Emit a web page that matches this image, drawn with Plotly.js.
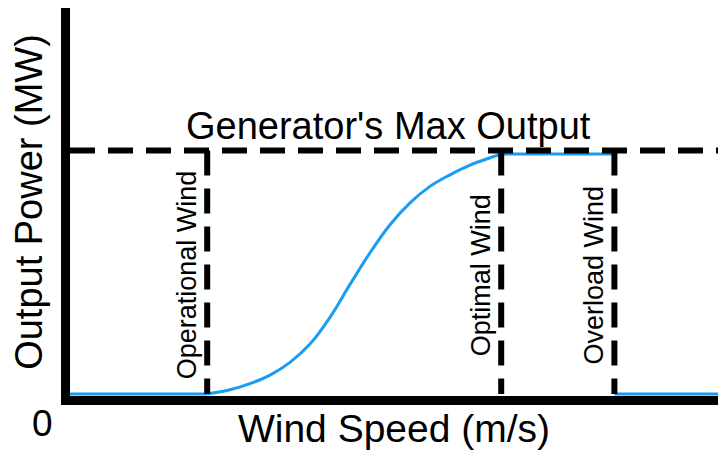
<!DOCTYPE html>
<html>
<head>
<meta charset="utf-8">
<script src="https://cdn.plot.ly/plotly-3.0.1.min.js"></script>
<style>html,body{margin:0;padding:0;background:#fff;}#chart{width:718px;height:455px;}</style>
</head>
<body>
<div id="chart"></div>
<script>
// ---- data (wind speed in m/s, output power in MW) ----
const cutInSpeed = 3.43;      // Operational Wind
const ratedSpeed = 10.78;     // Optimal Wind
const cutOutSpeed = 13.61;    // Overload Wind
const maxWindSpeed = 16.2;
const maxPower = 2.0;         // Generator's Max Output
const ratedPower = 1.97;

const curveSpeed = [3.43, 4.0, 4.5, 5.0, 5.5, 6.0, 6.5, 7.0, 7.5, 8.0, 8.5, 9.0, 9.5, 10.0, 10.5, 10.78];
const curvePower = [0.00, 0.035, 0.085, 0.155, 0.26, 0.41, 0.63, 0.90, 1.16, 1.39, 1.57, 1.705, 1.80, 1.88, 1.94, 1.97];

const lowSpeed = [0, cutInSpeed];
const lowPower = [0, 0];
const ratedSpeeds = [ratedSpeed, cutOutSpeed];
const ratedPowers = [ratedPower, ratedPower];
const overSpeed = [cutOutSpeed, maxWindSpeed];
const overPower = [0, 0];

const markerLabels = ["Operational Wind", "Optimal Wind", "Overload Wind"];
const markerSpeeds = [cutInSpeed, ratedSpeed, cutOutSpeed];

const blue = "#1a9cf2";
const font = "Liberation Sans, Arial, sans-serif";
const lineStyle = {color: blue, width: 3};

const traces = [
  {x: lowSpeed, y: lowPower, mode: "lines", line: lineStyle, hoverinfo: "skip"},
  {x: curveSpeed, y: curvePower, mode: "lines", line: {color: blue, width: 3, shape: "spline", smoothing: 1}, hoverinfo: "skip"},
  {x: ratedSpeeds, y: ratedPowers, mode: "lines", line: lineStyle, hoverinfo: "skip"},
  {x: overSpeed, y: overPower, mode: "lines", line: lineStyle, hoverinfo: "skip"}
];

const shapes = [
  {type: "line", xref: "x", yref: "y", x0: 0, x1: maxWindSpeed, y0: maxPower, y1: maxPower,
   line: {color: "#000", width: 6, dash: "25px,13px"}}
];
markerSpeeds.forEach(s => shapes.push({
  type: "line", xref: "x", yref: "y", x0: s, x1: s, y0: maxPower, y1: 0,
  line: {color: "#000", width: 6, dash: "25px,13px"}
}));

const annotations = markerLabels.map((t, i) => ({
  text: t, x: markerSpeeds[i], y: 0.977, xref: "x", yref: "y",
  xshift: -20, xanchor: "center", yanchor: "middle", textangle: -90, showarrow: false,
  font: {family: font, size: 27, color: "#000"}
}));
annotations.push({
  text: "Generator's Max Output", x: 7.95, y: 2.2, xref: "x", yref: "y",
  xanchor: "center", yanchor: "middle", showarrow: false,
  font: {family: font, size: 38, color: "#000"}
});
annotations.push({
  text: "0", x: 0, y: 0, xref: "x", yref: "y", xshift: -28, yshift: -29,
  xanchor: "center", yanchor: "middle", showarrow: false,
  font: {family: font, size: 37, color: "#000"}
});

const layout = {
  width: 718, height: 455,
  margin: {l: 70, r: 0, t: 8, b: 59},
  paper_bgcolor: "#fff", plot_bgcolor: "#fff",
  showlegend: false,
  xaxis: {range: [0, maxWindSpeed], showgrid: false, zeroline: false, showticklabels: false, ticks: "",
          showline: true, linecolor: "#000", linewidth: 9,
          title: {text: "Wind Speed (m/s)", font: {family: font, size: 39, color: "#000"}, standoff: 14}},
  yaxis: {range: [-0.0164, 3.17], showgrid: false, zeroline: false, showticklabels: false, ticks: "",
          showline: true, linecolor: "#000", linewidth: 9,
          title: {text: "Output Power (MW)", font: {family: font, size: 38, color: "#000"}, standoff: 10}},
  shapes: shapes,
  annotations: annotations
};

Plotly.newPlot("chart", traces, layout, {displayModeBar: false, staticPlot: true});
</script>
</body>
</html>
